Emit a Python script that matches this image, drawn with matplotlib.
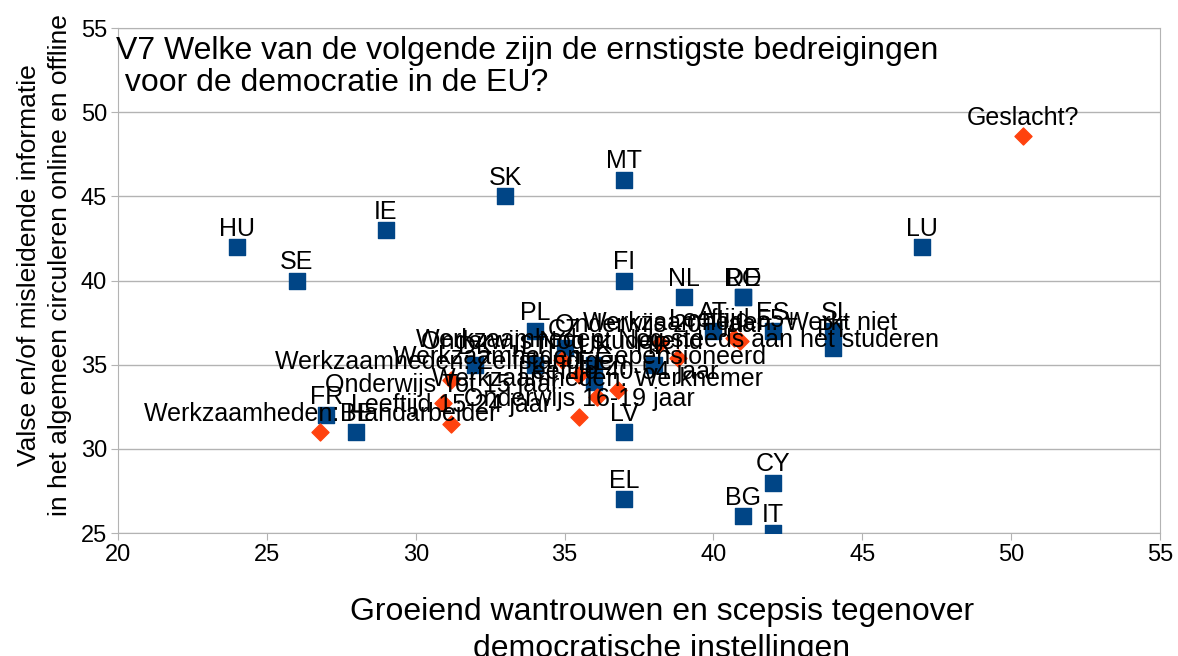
import matplotlib
matplotlib.use("Agg")
import matplotlib.pyplot as plt

plt.rcParams['font.family'] = ['Liberation Sans', 'DejaVu Sans']

# landen (blauwe vierkanten)
countries = ["HU", "SE", "IE", "SK", "MT", "FI", "NL", "RO", "DE", "LU",
             "AT", "ES", "SI", "PT", "PL", "CZ", "DK", "LT", "LV", "EL",
             "CY", "BG", "IT", "FR", "BE", "EE", "HR", "UK"]
country_x = [24, 26, 29, 33, 37, 37, 39, 41, 41, 47,
             40, 42, 44, 44, 34, 35, 32, 34, 37, 37,
             42, 41, 42, 27, 28, 36, 38, 36]
country_y = [42, 40, 43, 45, 46, 40, 39, 39, 39, 42,
             37, 37, 37, 36, 37, 36, 35, 35, 31, 27,
             28, 26, 25, 32, 31, 34, 35, 35]

# sociodemografische groepen (oranje ruiten)
groups = ["Werkzaamheden: Handarbeider", "Werkzaamheden: Zelfstandigen",
          "Onderwijs Tot 15 jaar", "Leeftijd 15-24 jaar",
          "Onderwijs Nog studerend", "Werkzaamheden: Gepensioneerd",
          "Werkzaamheden: Werknemer", "Leeftijd 40-54 jaar",
          "Onderwijs 16-19 jaar", "Werkzaamheden: Nog steeds aan het studeren",
          "Onderwijs 20+ jaar", "Leeftijd 55+", "Werkzaamheden: Werkt niet",
          "Geslacht?"]
group_x = [26.8, 31.2, 30.9, 31.2, 34.9, 35.5, 36.1, 36.8, 35.5, 38.8,
           38.2, 40.7, 40.9, 50.4]
group_y = [31.0, 34.1, 32.7, 31.5, 35.3, 34.4, 33.1, 33.5, 31.9, 35.4,
           36.3, 36.6, 36.4, 48.6]

fig = plt.figure(figsize=(11.78, 6.56), dpi=100)
ax = fig.add_axes([0.1002, 0.1875, 0.8845, 0.7698])

ax.scatter(country_x, country_y, marker="s", s=120, color="#004586", zorder=3)
ax.scatter(group_x, group_y, marker="D", s=75, color="#ff420e", zorder=4)

for name, x, y in zip(countries, country_x, country_y):
    ax.annotate(name, (x, y), xytext=(0, 8), textcoords="offset points",
                ha="center", va="baseline", fontsize=18, zorder=5)
for name, x, y in zip(groups, group_x, group_y):
    ax.annotate(name, (x, y), xytext=(0, 8), textcoords="offset points",
                ha="center", va="baseline", fontsize=18, zorder=5)

ax.set_xlim(20, 55)
ax.set_ylim(25, 55)
ax.set_xticks(range(20, 56, 5))
ax.set_yticks(range(25, 56, 5))
ax.tick_params(labelsize=17, color="#b3b3b3", length=5, pad=3)
ax.grid(axis="y", color="#b3b3b3", linewidth=1)
ax.set_axisbelow(True)
for sp in ax.spines.values():
    sp.set_color("#b3b3b3")

ax.text(-0.002, 0.985, "V7 Welke van de volgende zijn de ernstigste bedreigingen\n voor de democratie in de EU?",
        transform=ax.transAxes, ha="left", va="top", fontsize=23, linespacing=1.1)

ax.set_xlabel("Groeiend wantrouwen en scepsis tegenover\ndemocratische instellingen",
              fontsize=23, labelpad=22, linespacing=1.3)
ax.xaxis.label.set_x(0.522)
ax.set_ylabel("Valse en/of misleidende informatie\nin het algemeen circuleren online en offline",
              fontsize=19, labelpad=6, linespacing=1.4)
ax.yaxis.label.set_y(0.53)

fig.savefig("out.png", dpi=100)
